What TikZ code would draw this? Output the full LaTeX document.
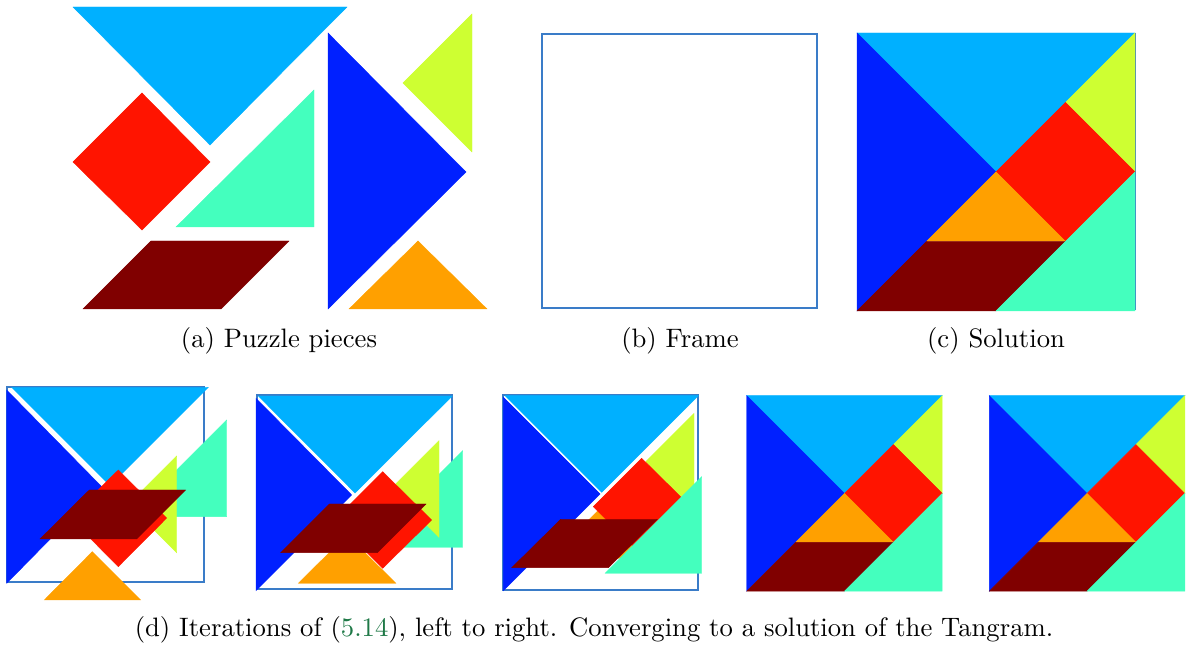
\documentclass[tikz,border=0pt]{standalone}
\definecolor{tlb}{RGB}{0,176,255}
\definecolor{tbl}{RGB}{0,32,255}
\definecolor{taq}{RGB}{68,255,190}
\definecolor{tye}{RGB}{206,255,50}
\definecolor{tre}{RGB}{255,20,0}
\definecolor{tor}{RGB}{255,160,0}
\definecolor{tma}{RGB}{128,0,0}
\definecolor{tfr}{RGB}{58,124,200}
\definecolor{linkgreen}{RGB}{30,120,70}
\tikzset{
  pLB/.style={fill=tlb, draw=tlb, line width=0.15pt},
  pBL/.style={fill=tbl, draw=tbl, line width=0.15pt},
  pAQ/.style={fill=taq, draw=taq, line width=0.15pt},
  pYE/.style={fill=tye, draw=tye, line width=0.15pt},
  pRE/.style={fill=tre, draw=tre, line width=0.15pt},
  pOR/.style={fill=tor, draw=tor, line width=0.15pt},
  pMA/.style={fill=tma, draw=tma, line width=0.15pt},
  frm/.style={draw=tfr, line width=0.75pt},
  captxt/.style={inner sep=0pt, anchor=base, font=\normalsize}
}
\newcommand\tansol[3]{%
  \begin{scope}[shift={(#1,#2)}, x={(#3*0.375pt,0pt)}, y={(0pt,-#3*0.375pt)}]
    \path[pLB] (0,0) -- (1,0) -- (0.5,0.5) -- cycle;
    \path[pBL] (0,0) -- (0.5,0.5) -- (0,1) -- cycle;
    \path[pYE] (1,0) -- (1,0.5) -- (0.75,0.25) -- cycle;
    \path[pRE] (0.75,0.25) -- (1,0.5) -- (0.75,0.75) -- (0.5,0.5) -- cycle;
    \path[pOR] (0.5,0.5) -- (0.75,0.75) -- (0.25,0.75) -- cycle;
    \path[pMA] (0,1) -- (0.25,0.75) -- (0.75,0.75) -- (0.5,1) -- cycle;
    \path[pAQ] (0.5,1) -- (1,0.5) -- (1,1) -- cycle;
  \end{scope}}
\begin{document}
\begin{tikzpicture}[x=0.375pt, y=-0.375pt]
\useasboundingbox (0,0) rectangle (1186,646);
% (a) puzzle pieces
\path[pLB] (73,7) -- (347,7) -- (210,145) -- cycle;
\path[pRE] (73,162) -- (142,93) -- (210,162) -- (142,230) -- cycle;
\path[pAQ] (176,227) -- (314,90) -- (314,227) -- cycle;
\path[pMA] (83,309) -- (151,241) -- (289,241) -- (221,309) -- cycle;
\path[pBL] (328,33) -- (466,172) -- (328,309) -- cycle;
\path[pYE] (472,14) -- (403,83) -- (472,152) -- cycle;
\path[pOR] (349,309) -- (418,241) -- (487,309) -- cycle;
% (b) frame
\draw[frm] (542,34) rectangle (817,308);
% (c) solution
\draw[tfr, line width=0.3pt] (857,33) rectangle (1135,309);
\tansol{857}{33}{278}
% (d) iteration 1
\draw[frm] (7.3,387.3) rectangle (204,581.7);
\path[pLB] (11.7,387.3) -- (208.3,387.3) -- (110,485.7) -- cycle;
\path[pBL] (6.7,390) -- (6.7,583.3) -- (101.7,486.7) -- cycle;
\path[pAQ] (226.7,420) -- (226.7,516.7) -- (130,516.7) -- cycle;
\path[pYE] (176.7,456) -- (176.7,552.7) -- (128.3,504.3) -- cycle;
\path[pRE] (118.3,470) -- (166.7,518) -- (118.3,566.7) -- (70,518) -- cycle;
\path[pOR] (92.3,551.7) -- (44.3,600) -- (140.7,600) -- cycle;
\path[pMA] (40,539) -- (89.3,490) -- (185.7,490) -- (136.7,539) -- cycle;
% (d) iteration 2
\draw[frm] (256.7,395) rectangle (452.3,589.3);
\path[pLB] (258.3,396) -- (452.3,396) -- (355,493) -- cycle;
\path[pBL] (256,398.3) -- (256,590.7) -- (351.7,495) -- cycle;
\path[pAQ] (462.7,450.7) -- (462.7,547.3) -- (366,547.3) -- cycle;
\path[pYE] (439,440.7) -- (439,537.3) -- (390.7,489) -- cycle;
\path[pRE] (382.7,471.7) -- (431.7,520) -- (382.7,568.3) -- (334.3,520) -- cycle;
\path[pOR] (298.3,583.3) -- (396,583.3) -- (347,535) -- cycle;
\path[pMA] (280.7,552.7) -- (329.3,504) -- (426,504) -- (377.3,552.7) -- cycle;
% (d) iteration 3
\draw[frm] (503.3,395) rectangle (698.3,590);
\path[pLB] (505,395.7) -- (698.3,395.7) -- (601.7,492.3) -- cycle;
\path[pBL] (503.3,397.3) -- (503.3,590.7) -- (600,494) -- cycle;
\path[pYE] (694,413.3) -- (694,510) -- (645.7,461.7) -- cycle;
\path[pOR] (599.3,509.3) -- (550.3,558.3) -- (648.3,558.3) -- cycle;
\path[pRE] (641.7,458.3) -- (691.7,507.7) -- (641.7,555) -- (593.3,506.7) -- cycle;
\path[pMA] (511.7,567.7) -- (560.7,519.3) -- (657.3,519.3) -- (608.3,567.7) -- cycle;
\path[pAQ] (701.7,476.7) -- (701.7,573.3) -- (605,573.3) -- cycle;
% (d) iterations 4 and 5
\tansol{746.7}{395.7}{195.5}
\tansol{989.3}{395.7}{195.5}
% captions
\node[captxt] (capa) at (279,348) {(a) Puzzle pieces};
\node[captxt] (capb) at (680,348) {(b) Frame};
\node[captxt] (capc) at (996,348) {(c) Solution};
\node[captxt] (capd) at (594,637) {(d) Iterations of (\textcolor{linkgreen}{5.14}), left to right. Converging to a solution of the Tangram.};
\end{tikzpicture}
\end{document}
